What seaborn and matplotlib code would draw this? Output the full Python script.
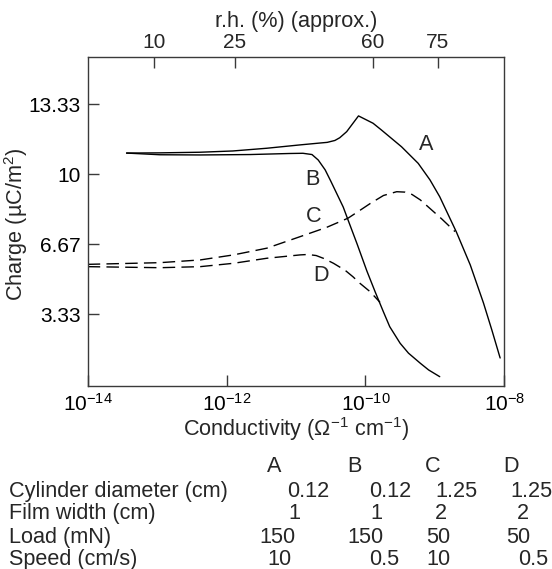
import numpy as np
import pandas as pd
import matplotlib
matplotlib.use("Agg")
import matplotlib.pyplot as plt
import seaborn as sns
from matplotlib.ticker import LogFormatterSciNotation, FixedLocator, NullLocator

# ---------------- data ----------------
# log10 of conductivity (Ohm^-1 cm^-1) and charge (uC/m^2)
A_logx = [-13.44, -12.96, -12.38, -11.91, -11.42, -10.94, -10.65, -10.55, -10.44, -10.37,
          -10.27, -10.10, -9.89, -9.77, -9.48, -9.24, -9.07, -8.93, -8.69, -8.49,
          -8.30, -8.18, -8.06]
A_y = [11.01, 11.02, 11.05, 11.11, 11.24, 11.40, 11.49, 11.52, 11.61, 11.74,
       12.03, 12.78, 12.43, 12.11, 11.31, 10.52, 9.73, 8.93, 7.25, 5.68,
       3.87, 2.59, 1.25]

B_logx = [-13.44, -12.96, -12.38, -11.66, -11.09, -10.90, -10.77, -10.68, -10.58,
          -10.50, -10.41, -10.32, -10.25, -10.12, -9.98, -9.86, -9.74, -9.65,
          -9.50, -9.38, -9.21, -9.09, -8.93]
B_y = [11.01, 10.93, 10.92, 10.94, 10.99, 11.00, 10.94, 10.68, 10.21,
       9.68, 9.06, 8.44, 7.82, 6.68, 5.40, 4.40, 3.44, 2.74,
       1.95, 1.48, 1.00, 0.68, 0.36]

C_logx = [-14.00, -12.96, -12.38, -11.90, -11.42, -10.94, -10.56, -10.25, -10.08,
          -9.93, -9.74, -9.55, -9.43, -9.33, -9.21, -9.07, -8.90, -8.71]
C_y = [5.71, 5.79, 5.92, 6.16, 6.48, 7.03, 7.47, 7.91, 8.28,
       8.61, 8.99, 9.17, 9.15, 9.04, 8.78, 8.37, 7.87, 7.27]

D_logx = [-14.00, -12.96, -12.38, -11.90, -11.42, -10.94, -10.83, -10.71, -10.60,
          -10.46, -10.29, -10.18, -10.08, -9.93, -9.79]
D_y = [5.60, 5.55, 5.60, 5.76, 6.00, 6.16, 6.18, 6.13, 5.99,
       5.76, 5.42, 5.12, 4.81, 4.40, 3.90]

curve_names = ["A", "B", "C", "D"]
label_logx = [-9.12, -10.76, -10.75, -10.64]
label_y = [11.40, 9.73, 7.98, 5.20]

y_ticks = [3.33, 6.67, 10, 13.33]
y_ticklabels = ["3.33", "6.67", "10", "13.33"]

rh_labels = ["10", "25", "60", "75"]
rh_logx = [-13.05, -11.88, -9.89, -8.955]

table_cols = ["A", "B", "C", "D"]
table_rows = ["Cylinder diameter (cm)", "Film width (cm)", "Load (mN)", "Speed (cm/s)"]
table_vals = [["0.12", "0.12", "1.25", "1.25"],
              ["1", "1", "2", "2"],
              ["150", "150", "50", "50"],
              ["10", "0.5", "10", "0.5"]]

# ---------------- build the long table ----------------
frames = []
for name, lx, yy in zip(curve_names, [A_logx, B_logx, C_logx, D_logx], [A_y, B_y, C_y, D_y]):
    frames.append(pd.DataFrame({"curve": name,
                                "cond": 10.0 ** np.array(lx),
                                "charge": yy}))
df = pd.concat(frames, ignore_index=True)

# ---------------- style ----------------
sns.set_theme(style="ticks")
plt.rcParams["font.family"] = ["Liberation Sans", "DejaVu Sans"]
plt.rcParams["mathtext.fontset"] = "custom"
plt.rcParams["mathtext.rm"] = "Liberation Sans"
plt.rcParams["mathtext.it"] = "Liberation Sans:italic"
plt.rcParams["mathtext.bf"] = "Liberation Sans:bold"
plt.rcParams["axes.unicode_minus"] = True
FS = 15.6
FT = 15

W, H = 552, 569
fig = plt.figure(figsize=(W / 100, H / 100), dpi=100)
L, R, T, B = 87.7, 504.3, 56.7, 385.7
ax = fig.add_axes([L / W, 1 - B / H, (R - L) / W, (B - T) / H])

sns.lineplot(data=df, x="cond", y="charge", style="curve", sort=False, estimator=None,
             units="curve", color="black", linewidth=1.0,
             dashes={"A": "", "B": "", "C": (9.0, 4.5), "D": (9.0, 4.5)},
             legend=False, ax=ax)

ax.set_xscale("log")
ax.set_xlim(1e-14, 1e-8)
ax.set_ylim(-0.07, 15.6)

ax.xaxis.set_major_locator(FixedLocator([1e-14, 1e-12, 1e-10, 1e-8]))
ax.xaxis.set_major_formatter(LogFormatterSciNotation())
ax.xaxis.set_minor_locator(NullLocator())
ax.set_yticks(y_ticks)
ax.set_yticklabels(y_ticklabels)

for sp in ax.spines.values():
    sp.set_color("#3a3a3a")
    sp.set_linewidth(1.0)
ax.tick_params(axis="both", which="major", direction="in", length=8, width=1.0,
               color="#3a3a3a", labelsize=FT, labelcolor="black", pad=5)

ax.set_xlabel("Conductivity ($\\mathrm{\\Omega}^{-1}$ cm$^{-1}$)", fontsize=FS)
ax.xaxis.set_label_coords(0.5, -0.090)
ax.set_ylabel("Charge (\u00b5C/m$^{2}$)", fontsize=FS)
ax.yaxis.set_label_coords(-0.139, 0.49)

for name, lx, yy in zip(curve_names, label_logx, label_y):
    ax.text(10 ** lx, yy, name, fontsize=FS, ha="center", va="center")

# top r.h. axis
ax2 = ax.twiny()
ax2.set_xscale("log")
ax2.set_xlim(ax.get_xlim())
ax2.xaxis.set_major_locator(FixedLocator([10 ** v for v in rh_logx]))
ax2.xaxis.set_minor_locator(NullLocator())
ax2.set_xticklabels(rh_labels)
ax2.tick_params(axis="x", which="major", direction="in", length=8, width=1.0,
                color="#3a3a3a", labelsize=FT, pad=3.5)
for sp in ax2.spines.values():
    sp.set_visible(False)
ax2.set_xlabel("r.h. (%) (approx.)", fontsize=FS, labelpad=4)

# ---------------- parameter table below ----------------
head_x = [274, 354, 433, 511]
head_base = 471.7
row_base = [496.7, 519.0, 543.0, 565.0]
row_label_x = 9.0
cell_x = [[287, 369, 435, 510],
          [288, 370, 435, 517],
          [259, 347, 426, 506],
          [267, 369, 426, 518]]

for x, c in zip(head_x, table_cols):
    fig.text(x / W, 1 - head_base / H, c, fontsize=FS, ha="center", va="baseline")
for i, (rl, vals) in enumerate(zip(table_rows, table_vals)):
    yb = 1 - row_base[i] / H
    fig.text(row_label_x / W, yb, rl, fontsize=FS, ha="left", va="baseline")
    for j, v in enumerate(vals):
        fig.text(cell_x[i][j] / W, yb, v, fontsize=FS, ha="left", va="baseline")

fig.savefig("out.png", dpi=100)
